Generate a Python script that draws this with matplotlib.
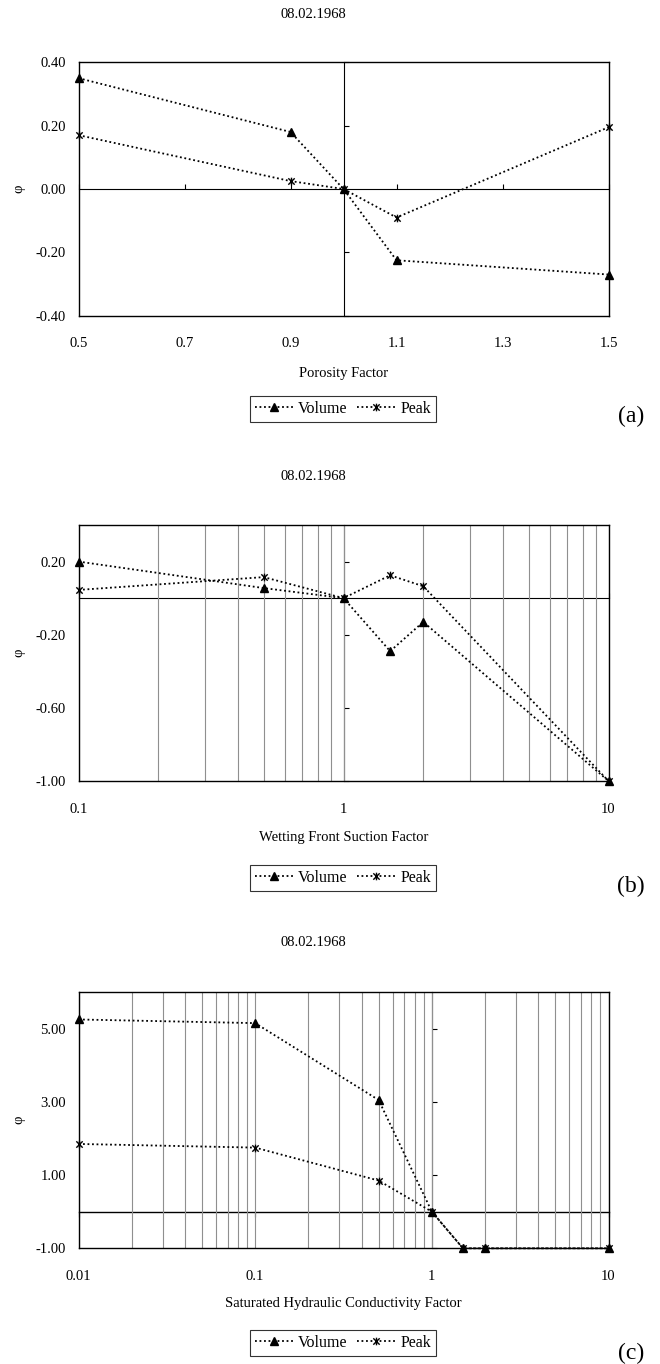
import matplotlib
matplotlib.use("Agg")
import matplotlib.pyplot as plt
from matplotlib.path import Path
from matplotlib.ticker import FixedLocator, FuncFormatter, NullFormatter, NullLocator, LogLocator

plt.rcParams["font.family"] = ["Liberation Serif", "DejaVu Serif"]
plt.rcParams["axes.unicode_minus"] = False

# ---- data -------------------------------------------------------------
date_label = "08.02.1968"
series_names = ["Volume", "Peak"]

porosity_factor = [0.5, 0.9, 1.0, 1.1, 1.5]
porosity_volume = [0.35, 0.18, 0.0, -0.225, -0.27]
porosity_peak = [0.17, 0.025, 0.0, -0.09, 0.195]

suction_factor = [0.1, 0.5, 1.0, 1.5, 2.0, 10.0]
suction_volume = [0.20, 0.055, 0.0, -0.29, -0.13, -1.0]
suction_peak = [0.045, 0.115, 0.0, 0.125, 0.065, -1.0]

conductivity_factor = [0.01, 0.1, 0.5, 1.0, 1.5, 2.0, 10.0]
conductivity_volume = [5.25, 5.15, 3.05, 0.0, -1.0, -1.0, -1.0]
conductivity_peak = [1.85, 1.75, 0.85, 0.0, -1.0, -1.0, -1.0]

porosity_xticks = [0.5, 0.7, 0.9, 1.1, 1.3, 1.5]
porosity_yticks = [-0.40, -0.20, 0.00, 0.20, 0.40]
suction_xticks = [0.1, 1, 10]
suction_yticks = [-1.00, -0.60, -0.20, 0.20]
conductivity_xticks = [0.01, 0.1, 1, 10]
conductivity_yticks = [-1.00, 1.00, 3.00, 5.00]

x_titles = ["Porosity Factor", "Wetting Front Suction Factor",
            "Saturated Hydraulic Conductivity Factor"]
panel_tags = ["(a)", "(b)", "(c)"]

# ---- layout (pixel based) --------------------------------------------
W, H = 660, 1364
fig = plt.figure(figsize=(W / 100, H / 100), dpi=100)


def fx(px):
    return px / W


def fy(py):
    return 1 - py / H


# Excel-like star marker: an "x" with a vertical bar through it
star = Path([(-1, -1), (1, 1), (-1, 1), (1, -1), (0, -1.2), (0, 1.2)],
            [Path.MOVETO, Path.LINETO, Path.MOVETO, Path.LINETO,
             Path.MOVETO, Path.LINETO])

line_kw = dict(color="black", lw=1.3, linestyle=(0, (1.0, 1.5)))

panels = [
    dict(top=62.3, bottom=315.7, x=porosity_factor, v=porosity_volume,
         p=porosity_peak, xt=porosity_xticks, yt=porosity_yticks,
         xlim=(0.5, 1.5), ylim=(-0.4, 0.4), log=False,
         title_y=15, xlabel_y=373, legend_y=409, tag_y=416),
    dict(top=525.0, bottom=781.0, x=suction_factor, v=suction_volume,
         p=suction_peak, xt=suction_xticks, yt=suction_yticks,
         xlim=(0.1, 10), ylim=(-1.0, 0.4), log=True,
         title_y=477, xlabel_y=837, legend_y=878, tag_y=886),
    dict(top=992.0, bottom=1248.3, x=conductivity_factor, v=conductivity_volume,
         p=conductivity_peak, xt=conductivity_xticks, yt=conductivity_yticks,
         xlim=(0.01, 10), ylim=(-1.0, 6.0), log=True,
         title_y=943, xlabel_y=1304, legend_y=1343, tag_y=1353),
]

left_px, right_px = 78.5, 608.5
fs = 10.5

for i, pn in enumerate(panels):
    ax = fig.add_axes([fx(left_px), fy(pn["bottom"]),
                       (right_px - left_px) / W, (pn["bottom"] - pn["top"]) / H])
    if pn["log"]:
        ax.set_xscale("log")
    ax.set_xlim(*pn["xlim"])
    ax.set_ylim(*pn["ylim"])

    ax.xaxis.set_major_locator(FixedLocator(pn["xt"]))
    ax.xaxis.set_major_formatter(FuncFormatter(lambda v, _: f"{v:g}"))
    ax.yaxis.set_major_locator(FixedLocator(pn["yt"]))
    ax.yaxis.set_major_formatter(FuncFormatter(lambda v, _: f"{v:.2f}"))
    if pn["log"]:
        ax.xaxis.set_minor_locator(LogLocator(base=10, subs=range(2, 10)))
        ax.xaxis.set_minor_formatter(NullFormatter())
        ax.grid(which="both", axis="x", color="#8f8f8f", lw=0.8, zorder=0)
    else:
        ax.xaxis.set_minor_locator(NullLocator())
    ax.yaxis.set_minor_locator(NullLocator())

    ax.tick_params(axis="x", which="both", length=0, pad=15.5, labelsize=fs)
    ax.tick_params(axis="y", which="both", length=0, pad=9, labelsize=fs)
    for sp in ax.spines.values():
        sp.set_color("black")
        sp.set_linewidth(1.0)

    # axes crossing at factor 1 and phi 0
    ax.figure.canvas.draw()
    cx, cy = ax.transAxes.inverted().transform(ax.transData.transform((1.0, 0.0)))
    sx = ax.secondary_xaxis(cy)
    sx.set_xticks(pn["xt"])
    sx.xaxis.set_minor_locator(NullLocator())
    sx.set_xticklabels([])
    sx.tick_params(direction="out", length=3.5, width=0.8, color="black")
    sx.spines["bottom"].set_linewidth(1.0)
    sy = ax.secondary_yaxis(cx)
    sy.set_yticks(pn["yt"])
    sy.yaxis.set_minor_locator(NullLocator())
    sy.set_yticklabels([])
    sy.tick_params(direction="out", length=3.5, width=0.8, color="black")
    sy.spines["left"].set_linewidth(1.0)

    h1, = ax.plot(pn["x"], pn["v"], marker="^", ms=5.5, mfc="black", mec="black",
                  label=series_names[0], zorder=3, clip_on=False, **line_kw)
    h2, = ax.plot(pn["x"], pn["p"], marker=star, ms=5.5, mew=1.0, mec="black",
                  mfc="none", label=series_names[1], zorder=3, clip_on=False,
                  **line_kw)

    fig.text(fx(313), fy(pn["title_y"]), date_label, ha="center", va="center",
             fontsize=fs)
    fig.text(fx((left_px + right_px) / 2), fy(pn["xlabel_y"]), x_titles[i],
             ha="center", va="center", fontsize=fs)
    fig.text(fx(19), fy((pn["top"] + pn["bottom"]) / 2), "φ", rotation=90,
             ha="center", va="center", fontsize=fs)
    leg = fig.legend([h1, h2], series_names, loc="center",
                     bbox_to_anchor=(fx(343), fy(pn["legend_y"])), ncol=2,
                     frameon=True, fancybox=False, edgecolor="black",
                     handlelength=2.4, handletextpad=0.3, columnspacing=0.6,
                     borderpad=0.3, borderaxespad=0, fontsize=11.5)
    leg.get_frame().set_linewidth(0.8)
    fig.text(fx(631), fy(pn["tag_y"]), panel_tags[i], ha="center", va="center",
             fontsize=17)

fig.savefig("out.png", dpi=100)
